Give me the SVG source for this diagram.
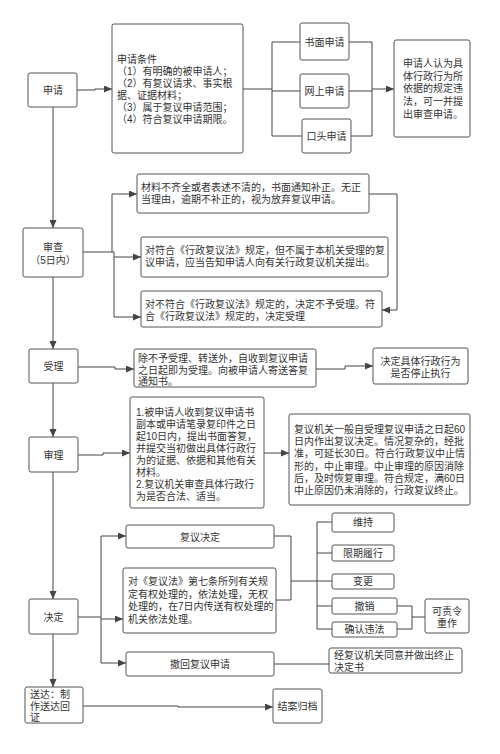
<svg xmlns="http://www.w3.org/2000/svg" width="500" height="754" viewBox="0 0 500 754">
<defs>
<marker id="ah" markerWidth="8" markerHeight="7" refX="8" refY="3.5" orient="auto" markerUnits="userSpaceOnUse">
<path d="M0,0 L8,3.5 L0,7 Z" fill="#444"/>
</marker>
<style>
.b{fill:#fff;stroke:#555;stroke-width:1}
.t{font-family:"Liberation Sans","Noto Sans CJK SC",sans-serif;font-size:10px;fill:#333;dominant-baseline:central}
.c{text-anchor:middle}
.l{fill:none;stroke:#444;stroke-width:1}
.a{fill:none;stroke:#444;stroke-width:1;marker-end:url(#ah)}
</style>
</defs>
<rect width="500" height="754" fill="#fff"/>

<g id="connectors">
<path class="a" d="M77 90 H95 V89 H112"/>
<path class="l" d="M243 89 H272 M272 42 V136 M272 42 H300 M272 91 H300 M272 136 H302"/>
<path class="l" d="M349 42 H372 M349 91 H372 M351 136 H372 M372 42 V136"/>
<path class="a" d="M372 89 H394"/>
<path class="a" d="M53 107 V228"/>
<path class="l" d="M83 252 H114 M112 252 V194 M114 252 V317"/>
<path class="a" d="M112 194 H137"/>
<path class="a" d="M114 257 H141"/>
<path class="a" d="M114 317 H141"/>
<path class="a" d="M369 194 H397 V310 H382"/>
<path class="a" d="M53 277 V349"/>
<path class="a" d="M78 367 H115 V369 H134"/>
<path class="a" d="M316 369 H345 V366 H373"/>
<path class="a" d="M53 383 V437"/>
<path class="a" d="M78 455 H103 V453 H130"/>
<path class="a" d="M264 453 H289"/>
<path class="a" d="M53 472 V599"/>
<path class="l" d="M78 617 H101 M101 536 V663"/>
<path class="a" d="M101 536 H126"/>
<path class="a" d="M101 619 H123"/>
<path class="a" d="M101 663 H126"/>
<path class="l" d="M274 536 H291 V600 H276 M291 581 H317 M317 522 V629"/>
<path class="l" d="M317 522 H332 M317 553 H332 M317 581 H332 M317 606 H332 M317 629 H332"/>
<path class="l" d="M397 606 H412 V629 H397 M412 617 H425"/>
<path class="l" d="M274 664 H329"/>
<path class="a" d="M53 634 V687"/>
<path class="a" d="M83 706 H178 V707 H273"/>
</g>

<g id="n-shenqing"><rect class="b" x="28" y="73" width="49" height="34" rx="2"/><text class="t c" x="53" y="90">申请</text></g>
<g id="n-tiaojian"><rect class="b" x="112" y="24" width="131" height="129" rx="2"/>
<text class="t" x="117" y="59"><tspan x="117">申请条件</tspan><tspan x="117" dy="12">（1）有明确的被申请人；</tspan><tspan x="117" dy="12">（2）有复议请求、事实根</tspan><tspan x="117" dy="12">据、证据材料；</tspan><tspan x="117" dy="12">（3）属于复议申请范围；</tspan><tspan x="117" dy="12">（4）符合复议申请期限。</tspan></text></g>
<g id="n-shumian"><rect class="b" x="300" y="23" width="49" height="37" rx="2"/><text class="t c" x="324.5" y="42">书面申请</text></g>
<g id="n-wangshang"><rect class="b" x="300" y="74" width="49" height="34" rx="2"/><text class="t c" x="324.5" y="91">网上申请</text></g>
<g id="n-koutou"><rect class="b" x="302" y="119" width="49" height="34" rx="2"/><text class="t c" x="326.5" y="136">口头申请</text></g>
<g id="n-shencha-note"><rect class="b" x="394" y="40" width="76" height="97" rx="2"/>
<text class="t" x="403" y="63"><tspan x="403">申请人认为具</tspan><tspan x="403" dy="12.7">体行政行为所</tspan><tspan x="403" dy="12.7">依据的规定违</tspan><tspan x="403" dy="12.7">法，可一并提</tspan><tspan x="403" dy="12.7">出审查申请。</tspan></text></g>

<g id="n-shencha"><rect class="b" x="23" y="228" width="60" height="49" rx="2"/>
<text class="t c" x="53" y="247"><tspan x="53">审查</tspan><tspan x="53" dy="13">（5日内）</tspan></text></g>
<g id="n-buzheng"><rect class="b" x="137" y="174" width="232" height="39" rx="2"/>
<text class="t" x="141" y="187"><tspan x="141">材料不齐全或者表述不清的，书面通知补正。无正</tspan><tspan x="141" dy="12">当理由，逾期不补正的，视为放弃复议申请。</tspan></text></g>
<g id="n-gaozhi"><rect class="b" x="141" y="237" width="247" height="40" rx="2"/>
<text class="t" x="145" y="250"><tspan x="145">对符合《行政复议法》规定，但不属于本机关受理的复</tspan><tspan x="145" dy="12">议申请，应当告知申请人向有关行政复议机关提出。</tspan></text></g>
<g id="n-buyu"><rect class="b" x="141" y="291" width="241" height="36" rx="2"/>
<text class="t" x="145" y="304"><tspan x="145">对不符合《行政复议法》规定的，决定不予受理。符</tspan><tspan x="145" dy="12">合《行政复议法》规定的，决定受理</tspan></text></g>

<g id="n-shouli"><rect class="b" x="29" y="349" width="49" height="34" rx="2"/><text class="t c" x="53.5" y="366">受理</text></g>
<g id="n-shouli-note"><rect class="b" x="134" y="349" width="182" height="38" rx="2"/>
<text class="t" x="138" y="358"><tspan x="138">除不予受理、转送外，自收到复议申请</tspan><tspan x="138" dy="11.7">之日起即为受理。向被申请人寄送答复</tspan><tspan x="138" dy="11.7">通知书。</tspan></text></g>
<g id="n-tingzhi"><rect class="b" x="373" y="348" width="95" height="36" rx="2"/>
<text class="t c" x="420.5" y="361"><tspan x="420.5">决定具体行政行为</tspan><tspan x="420.5" dy="12">是否停止执行</tspan></text></g>

<g id="n-shenli"><rect class="b" x="29" y="437" width="49" height="35" rx="2"/><text class="t c" x="53.5" y="455">审理</text></g>
<g id="n-shenli-note"><rect class="b" x="130" y="397" width="134" height="111" rx="2"/>
<text class="t" x="136" y="412"><tspan x="136">1.被申请人收到复议申请书</tspan><tspan x="136" dy="12">副本或申请笔录复印件之日</tspan><tspan x="136" dy="12">起10日内，提出书面答复，</tspan><tspan x="136" dy="12">并提交当初做出具体行政行</tspan><tspan x="136" dy="12">为的证据、依据和其他有关</tspan><tspan x="136" dy="12">材料。</tspan><tspan x="136" dy="12">2.复议机关审查具体行政行</tspan><tspan x="136" dy="12">为是否合法、适当。</tspan></text></g>
<g id="n-qixian"><rect class="b" x="289" y="414" width="181" height="91" rx="2"/>
<text class="t" x="294" y="429"><tspan x="294">复议机关一般自受理复议申请之日起60</tspan><tspan x="294" dy="12.2">日内作出复议决定。情况复杂的，经批</tspan><tspan x="294" dy="12.2">准，可延长30日。符合行政复议中止情</tspan><tspan x="294" dy="12.2">形的，中止审理。中止审理的原因消除</tspan><tspan x="294" dy="12.2">后，及时恢复审理。符合规定，满60日</tspan><tspan x="294" dy="12.2">中止原因仍未消除的，行政复议终止。</tspan></text></g>

<g id="n-jueding"><rect class="b" x="29" y="599" width="49" height="35" rx="2"/><text class="t c" x="53.5" y="617">决定</text></g>
<g id="n-fuyijueding"><rect class="b" x="126" y="525" width="148" height="23" rx="2"/><text class="t c" x="200" y="537">复议决定</text></g>
<g id="n-diqitiao"><rect class="b" x="123" y="568" width="153" height="65" rx="2"/>
<text class="t" x="128" y="581"><tspan x="128">对《复议法》第七条所列有关规</tspan><tspan x="128" dy="12.6">定有权处理的，依法处理，无权</tspan><tspan x="128" dy="12.6">处理的，在7日内传送有权处理的</tspan><tspan x="128" dy="12.6">机关依法处理。</tspan></text></g>
<g id="n-chehui"><rect class="b" x="126" y="652" width="148" height="24" rx="2"/><text class="t c" x="200" y="664">撤回复议申请</text></g>
<g id="n-weichi"><rect class="b" x="332" y="513" width="62" height="19" rx="2"/><text class="t c" x="363" y="522.5">维持</text></g>
<g id="n-xianqi"><rect class="b" x="332" y="545" width="62" height="16" rx="2"/><text class="t c" x="363" y="553">限期履行</text></g>
<g id="n-biangeng"><rect class="b" x="332" y="574" width="62" height="15" rx="2"/><text class="t c" x="363" y="581.5">变更</text></g>
<g id="n-chexiao"><rect class="b" x="332" y="598" width="65" height="16" rx="2"/><text class="t c" x="364.5" y="606">撤销</text></g>
<g id="n-queren"><rect class="b" x="332" y="622" width="65" height="15" rx="2"/><text class="t c" x="364.5" y="629.5">确认违法</text></g>
<g id="n-chongzuo"><rect class="b" x="425" y="599" width="44" height="34" rx="2"/>
<text class="t c" x="447" y="611"><tspan x="447">可责令</tspan><tspan x="447" dy="12">重作</tspan></text></g>
<g id="n-zhongzhi"><rect class="b" x="329" y="648" width="133" height="25" rx="2"/>
<text class="t" x="334" y="655"><tspan x="334">经复议机关同意并做出终止</tspan><tspan x="334" dy="12">决定书</tspan></text></g>

<g id="n-songda"><rect class="b" x="25" y="687" width="58" height="36" rx="2"/>
<text class="t" x="30" y="694"><tspan x="30">送达：制</tspan><tspan x="30" dy="11.5">作送达回</tspan><tspan x="30" dy="11.5">证</tspan></text></g>
<g id="n-jiean"><rect class="b" x="273" y="689" width="49" height="34" rx="2"/><text class="t c" x="297.5" y="706">结案归档</text></g>
</svg>
